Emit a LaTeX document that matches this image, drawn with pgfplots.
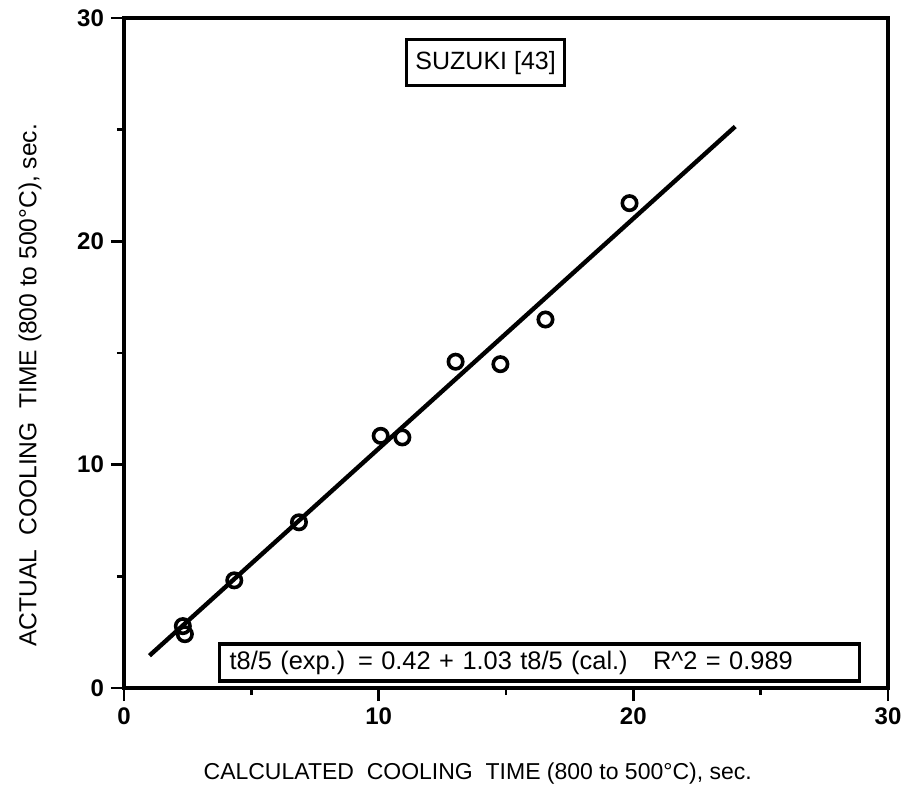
\documentclass[border=0pt]{standalone}
\usepackage{pgfplots}
\pgfplotsset{compat=1.18}
\usepackage{fontspec}
\setmainfont{Liberation Sans}

% measured versus calculated t8/5 cooling times
\pgfplotstableread{
calc  actual
2.31  2.77
2.39  2.41
4.33  4.82
6.87  7.42
10.08 11.29
10.93 11.22
13.02 14.61
14.78 14.50
16.55 16.50
19.85 21.71
}\suzuki

\begin{document}
\begin{tikzpicture}
\path[use as bounding box] (0,0) rectangle (455pt,397pt);
\begin{axis}[
  at={(62pt,53pt)}, anchor=south west,
  scale only axis,
  width=382pt, height=335pt,
  xmin=0, xmax=30, ymin=0, ymax=30,
  xtick={0,10,20,30}, ytick={0,10,20,30},
  minor xtick={5,15,25}, minor ytick={5,15,25},
  tick pos=left,
  tick align=outside,
  major tick length=6.5pt, minor tick length=3.5pt,
  every tick/.style={black, line width=1.3pt},
  axis line style={line width=1.7pt},
  /pgf/number format/assume math mode=true,
  tick label style={font=\bfseries\fontsize{12}{14}\selectfont},
  xlabel={CALCULATED\ \ COOLING\ \ TIME (800 to 500°C), sec.},
  ylabel={ACTUAL\ \ COOLING\ \ TIME (800 to 500°C), sec.},
  xlabel style={at={(axis description cs:0.463,-0.127)}, anchor=center,
                font=\fontsize{11.5}{13}\selectfont},
  ylabel style={at={(axis description cs:-0.123,0.452)}, anchor=center,
                rotate=0, font=\fontsize{12.3}{14}\selectfont},
  clip=false,
]
% regression line t8/5(exp.) = 0.42 + 1.03 t8/5(cal.)
\addplot[black, line width=2.2pt] coordinates {(1.0,1.45) (24.0,25.14)};
% data points
\addplot[only marks, mark=o, mark size=3.6pt,
         mark options={line width=1.8pt, black}] table[x=calc, y=actual] {\suzuki};

\node[draw, line width=1.6pt, minimum height=23pt, inner xsep=4.5pt,
      font=\fontsize{12.5}{14}\selectfont]
  at (axis cs:14.2,28.0) {SUZUKI [43]};
\node[draw, line width=1.6pt, anchor=west, minimum height=17.5pt,
      inner xsep=5pt, text width=310pt, align=left,
      font=\fontsize{12.7}{15}\selectfont]
  at (axis cs:3.69,1.14)
  {t8/5 (exp.) = 0.42 + 1.03 t8/5 (cal.)\ \ \ R\textasciicircum 2 = 0.989};
\end{axis}
\end{tikzpicture}
\end{document}
